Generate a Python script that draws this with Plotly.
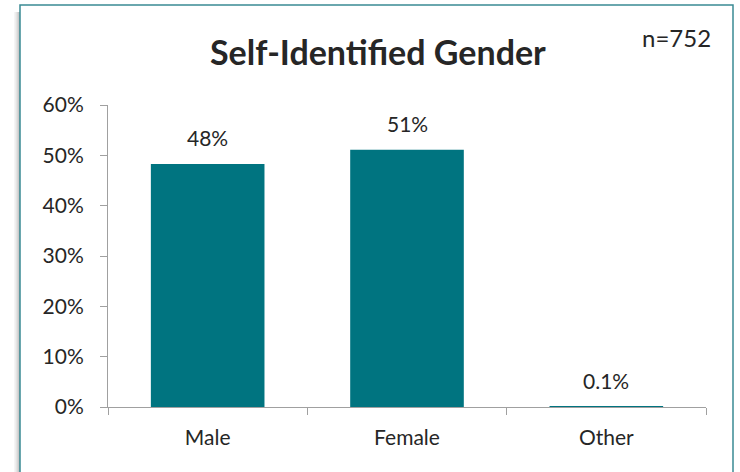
import plotly.graph_objects as go

categories = ["Male", "Female", "Other"]
values = [0.483, 0.511, 0.001]
value_labels = ["48%", "51%", "0.1%"]
y_ticks = [0, 0.1, 0.2, 0.3, 0.4, 0.5, 0.6]
y_tick_labels = ["0%", "10%", "20%", "30%", "40%", "50%", "60%"]

W, H = 740, 472
FONT = "Lato, Carlito, Calibri, sans-serif"
TXT = "#262626"
BAR = "#007480"

fig = go.Figure(go.Bar(x=categories, y=values, marker_color=BAR, marker_line_width=0,
                       hoverinfo="skip"))

for c, v, t in zip(categories, values, value_labels):
    fig.add_annotation(x=c, y=v, text=t, showarrow=False, yanchor="bottom",
                       yshift=12, font=dict(family=FONT, size=21, color=TXT))

def px(x):
    return x / W

def py(y):
    return 1 - y / H

# drop shadow on the left
for i, op in enumerate([0.06, 0.10, 0.16, 0.24, 0.32, 0.40]):
    fig.add_shape(type="rect", xref="paper", yref="paper",
                  x0=px(14 + i), x1=px(15 + i), y0=py(H + 20), y1=py(12),
                  line_width=0, fillcolor=f"rgba(90,90,90,{op})", layer="below")
# frame
fig.add_shape(type="rect", xref="paper", yref="paper",
              x0=px(20), x1=px(733), y0=py(H + 20), y1=py(5),
              line=dict(color="#3a8a94", width=1.5), fillcolor="white", layer="below")

fig.add_annotation(xref="paper", yref="paper", x=px(378), y=py(51), text="<b>Self-Identified Gender</b>",
                   showarrow=False, xanchor="center", yanchor="middle",
                   font=dict(family=FONT, size=34, color=TXT))
fig.add_annotation(xref="paper", yref="paper", x=px(713), y=py(37), text="n=752",
                   showarrow=False, xanchor="right", yanchor="middle",
                   font=dict(family=FONT, size=24, color=TXT))

fig.update_layout(
    width=W, height=H, margin=dict(l=0, r=0, t=0, b=0, pad=0, autoexpand=False),
    paper_bgcolor="white", plot_bgcolor="rgba(0,0,0,0)",
    bargap=0.43, showlegend=False,
    font=dict(family=FONT, color=TXT, size=21),
    xaxis=dict(domain=[px(108), px(706)], showline=True, linecolor="#a0a0a0", linewidth=1,
               ticks="outside", tickson="boundaries", ticklen=7, tickcolor="#a0a0a0",
               ticklabelstandoff=12, showgrid=False, zeroline=False, automargin=False,
               tickfont=dict(family=FONT, size=21, color=TXT)),
    yaxis=dict(domain=[py(407), py(105)], range=[0, 0.6], tickvals=y_ticks,
               ticktext=y_tick_labels, showline=True, linecolor="#a0a0a0", linewidth=1,
               ticks="outside", ticklen=7, tickcolor="#a0a0a0", ticklabelstandoff=12,
               showgrid=False, zeroline=False, automargin=False,
               tickfont=dict(family=FONT, size=21, color=TXT)),
)

fig.write_html("out.html", config={"displayModeBar": False},
               post_script="document.body.style.margin='0';"
                           "document.documentElement.style.overflow='hidden';"
                           "document.body.style.overflow='hidden';")
